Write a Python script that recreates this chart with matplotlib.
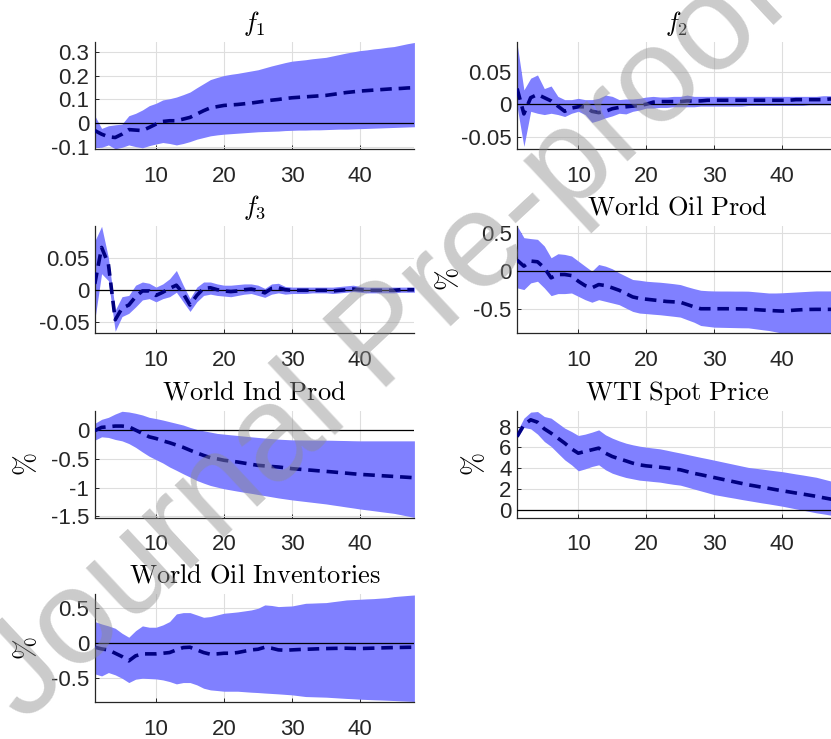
import matplotlib
matplotlib.use('Agg')
import matplotlib.pyplot as plt
from matplotlib.ticker import FuncFormatter
import numpy as np

plt.rcParams['mathtext.fontset'] = 'cm'
plt.rcParams['axes.unicode_minus'] = False
plt.rcParams['font.family'] = ['Liberation Sans', 'DejaVu Sans']

horizon = np.arange(1, 49)

# f1
f1_med = [-0.030, -0.045, -0.056, -0.059, -0.045, -0.026, -0.028, -0.030, -0.017, -0.003,
          0.008, 0.011, 0.011, 0.018, 0.025, 0.039, 0.053, 0.065, 0.070, 0.075,
          0.077, 0.079, 0.082, 0.085, 0.089, 0.093, 0.097, 0.100, 0.104, 0.107,
          0.109, 0.111, 0.113, 0.115, 0.117, 0.121, 0.125, 0.129, 0.132, 0.135,
          0.137, 0.139, 0.141, 0.143, 0.145, 0.146, 0.148, 0.149]
f1_hi = [0.032, -0.021, -0.010, -0.006, -0.003, 0.032, 0.042, 0.056, 0.074, 0.084,
         0.098, 0.103, 0.110, 0.120, 0.131, 0.149, 0.166, 0.183, 0.192, 0.200,
         0.205, 0.209, 0.214, 0.219, 0.224, 0.232, 0.240, 0.247, 0.254, 0.260,
         0.263, 0.266, 0.270, 0.273, 0.276, 0.282, 0.288, 0.294, 0.299, 0.304,
         0.307, 0.311, 0.314, 0.318, 0.321, 0.327, 0.333, 0.338]
f1_lo = [-0.101, -0.100, -0.090, -0.106, -0.100, -0.090, -0.097, -0.102, -0.093, -0.086,
         -0.080, -0.084, -0.090, -0.084, -0.076, -0.066, -0.059, -0.052, -0.048, -0.045,
         -0.043, -0.041, -0.039, -0.037, -0.035, -0.034, -0.033, -0.032, -0.030, -0.029,
         -0.028, -0.028, -0.027, -0.027, -0.026, -0.025, -0.024, -0.024, -0.023, -0.022,
         -0.021, -0.020, -0.019, -0.018, -0.017, -0.016, -0.015, -0.014]

# f2
f2_med = [0.024, -0.015, 0.010, 0.015, 0.010, 0.005, -0.003, -0.011, -0.006, -0.004,
          -0.004, -0.011, -0.013, -0.011, -0.007, -0.005, -0.004, -0.003, -0.002, 0.000,
          0.003, 0.004, 0.004, 0.004, 0.004, 0.005, 0.005, 0.005, 0.006, 0.006,
          0.006, 0.006, 0.006, 0.006, 0.006, 0.006, 0.006, 0.006, 0.006, 0.006,
          0.006, 0.007, 0.007, 0.007, 0.007, 0.007, 0.008, 0.008]
f2_hi = [0.093, 0.022, 0.040, 0.045, 0.024, 0.028, 0.012, 0.007, 0.007, 0.009,
         0.007, 0.007, 0.009, 0.014, 0.012, 0.007, 0.008, 0.008, 0.009, 0.011,
         0.012, 0.011, 0.011, 0.012, 0.012, 0.014, 0.012, 0.012, 0.012, 0.012,
         0.012, 0.012, 0.012, 0.012, 0.012, 0.012, 0.012, 0.012, 0.012, 0.012,
         0.012, 0.012, 0.012, 0.012, 0.012, 0.013, 0.013, 0.013]
f2_lo = [-0.004, -0.065, -0.011, -0.014, -0.016, -0.014, -0.016, -0.019, -0.014, -0.011,
         -0.016, -0.028, -0.025, -0.021, -0.018, -0.014, -0.015, -0.011, -0.009, -0.006,
         -0.006, -0.005, -0.005, -0.004, -0.004, -0.004, -0.004, -0.003, -0.003, -0.003,
         -0.003, -0.003, -0.003, -0.003, -0.002, -0.002, -0.002, -0.002, -0.002, -0.002,
         -0.002, -0.002, -0.002, -0.001, -0.001, -0.001, -0.001, -0.001]

# f3
f3_med = [0.010, 0.067, 0.041, -0.046, -0.028, -0.023, -0.010, -0.001, -0.001, -0.008,
          -0.003, 0.003, 0.008, -0.005, -0.023, -0.008, 0.003, 0.004, 0.001, -0.001,
          -0.002, -0.001, 0.001, 0.002, 0.000, -0.004, 0.003, 0.004, 0.001, 0.000,
          0.000, 0.000, 0.000, 0.000, 0.000, -0.001, 0.000, 0.001, 0.002, 0.001,
          0.000, 0.000, 0.000, 0.000, 0.000, 0.001, 0.001, 0.001]
f3_hi = [0.077, 0.100, 0.051, -0.031, -0.010, -0.008, 0.008, 0.013, 0.011, 0.005,
         0.010, 0.018, 0.031, 0.008, -0.013, 0.005, 0.013, 0.013, 0.010, 0.008,
         0.008, 0.009, 0.010, 0.010, 0.008, 0.003, 0.010, 0.011, 0.006, 0.005,
         0.005, 0.005, 0.005, 0.005, 0.005, 0.005, 0.006, 0.007, 0.008, 0.006,
         0.005, 0.005, 0.005, 0.005, 0.005, 0.005, 0.005, 0.005]
f3_lo = [-0.046, 0.026, 0.015, -0.064, -0.041, -0.036, -0.026, -0.015, -0.013, -0.018,
         -0.013, -0.010, -0.003, -0.018, -0.033, -0.018, -0.008, -0.006, -0.008, -0.009,
         -0.010, -0.008, -0.006, -0.005, -0.008, -0.011, -0.006, -0.004, -0.006, -0.005,
         -0.005, -0.005, -0.004, -0.004, -0.004, -0.005, -0.004, -0.003, -0.002, -0.003,
         -0.004, -0.004, -0.004, -0.004, -0.004, -0.003, -0.003, -0.003]

# World Oil Prod
wop_med = [0.146, 0.066, 0.133, 0.124, 0.044, -0.088, -0.044, -0.044, -0.058, -0.133,
           -0.190, -0.220, -0.177, -0.190, -0.220, -0.252, -0.296, -0.340, -0.360, -0.370,
           -0.380, -0.390, -0.400, -0.405, -0.410, -0.440, -0.470, -0.496, -0.496, -0.496,
           -0.496, -0.496, -0.497, -0.498, -0.500, -0.507, -0.513, -0.518, -0.523, -0.527,
           -0.520, -0.513, -0.508, -0.505, -0.504, -0.504, -0.504, -0.504]
wop_hi = [0.597, 0.442, 0.430, 0.420, 0.332, 0.177, 0.230, 0.221, 0.200, 0.133,
          0.066, 0.000, 0.088, 0.066, 0.031, -0.022, -0.066, -0.110, -0.120, -0.133,
          -0.140, -0.146, -0.155, -0.165, -0.177, -0.205, -0.230, -0.252, -0.258, -0.261,
          -0.262, -0.262, -0.263, -0.263, -0.264, -0.272, -0.280, -0.288, -0.288, -0.285,
          -0.280, -0.275, -0.270, -0.265, -0.261, -0.261, -0.261, -0.261]
wop_lo = [-0.220, -0.243, -0.155, -0.133, -0.221, -0.323, -0.296, -0.296, -0.288, -0.332,
          -0.376, -0.410, -0.376, -0.398, -0.420, -0.442, -0.487, -0.531, -0.553, -0.560,
          -0.568, -0.575, -0.585, -0.595, -0.606, -0.640, -0.673, -0.717, -0.728, -0.739,
          -0.741, -0.743, -0.745, -0.747, -0.748, -0.760, -0.772, -0.783, -0.800, -0.819,
          -0.819, -0.819, -0.819, -0.819, -0.819, -0.819, -0.819, -0.819]

# World Ind Prod
wip_med = [-0.010, 0.047, 0.058, 0.070, 0.070, 0.058, 0.000, -0.058, -0.117, -0.146,
           -0.187, -0.220, -0.260, -0.300, -0.350, -0.397, -0.440, -0.480, -0.500, -0.525,
           -0.540, -0.555, -0.575, -0.595, -0.613, -0.623, -0.633, -0.642, -0.656, -0.671,
           -0.680, -0.690, -0.699, -0.709, -0.718, -0.728, -0.739, -0.749, -0.760, -0.770,
           -0.777, -0.784, -0.792, -0.799, -0.806, -0.814, -0.821, -0.829]
wip_hi = [0.117, 0.187, 0.222, 0.280, 0.327, 0.315, 0.292, 0.263, 0.222, 0.200,
          0.175, 0.146, 0.117, 0.088, 0.047, 0.012, -0.012, -0.035, -0.058, -0.070,
          -0.082, -0.093, -0.105, -0.117, -0.128, -0.138, -0.148, -0.158, -0.164, -0.170,
          -0.171, -0.172, -0.173, -0.174, -0.175, -0.177, -0.180, -0.182, -0.185, -0.187,
          -0.187, -0.187, -0.187, -0.187, -0.187, -0.187, -0.187, -0.187]
wip_lo = [-0.175, -0.117, -0.128, -0.163, -0.187, -0.234, -0.300, -0.380, -0.455, -0.514,
          -0.572, -0.642, -0.700, -0.760, -0.817, -0.876, -0.922, -0.963, -0.992, -1.020,
          -1.041, -1.062, -1.081, -1.100, -1.120, -1.140, -1.160, -1.180, -1.197, -1.214,
          -1.228, -1.242, -1.256, -1.270, -1.284, -1.302, -1.319, -1.337, -1.354, -1.372,
          -1.387, -1.402, -1.418, -1.433, -1.448, -1.471, -1.495, -1.518]

# WTI Spot Price
wti_med = [7.04, 8.17, 8.65, 8.42, 7.78, 7.36, 6.88, 6.40, 5.85, 5.43,
           5.60, 5.76, 5.92, 5.43, 5.11, 4.89, 4.69, 4.47, 4.31, 4.21,
           4.15, 4.08, 4.00, 3.91, 3.83, 3.66, 3.49, 3.36, 3.22, 3.08,
           2.94, 2.80, 2.66, 2.52, 2.38, 2.27, 2.15, 2.04, 1.92, 1.81,
           1.70, 1.59, 1.49, 1.38, 1.27, 1.14, 1.02, 0.89]
wti_hi = [7.52, 8.81, 9.39, 9.45, 8.97, 8.81, 8.33, 7.85, 7.52, 7.14,
          7.27, 7.46, 7.68, 7.20, 6.88, 6.62, 6.40, 6.24, 6.11, 6.01,
          5.93, 5.85, 5.72, 5.58, 5.45, 5.31, 5.17, 5.03, 4.90, 4.76,
          4.62, 4.48, 4.34, 4.20, 4.06, 3.98, 3.90, 3.81, 3.73, 3.65,
          3.54, 3.43, 3.33, 3.22, 3.11, 2.94, 2.77, 2.60]
wti_lo = [6.88, 7.91, 7.78, 7.27, 6.56, 6.08, 5.43, 4.79, 4.31, 3.73,
          3.92, 4.15, 4.31, 3.83, 3.50, 3.28, 3.09, 2.96, 2.83, 2.77,
          2.70, 2.64, 2.53, 2.43, 2.35, 2.17, 1.98, 1.80, 1.62, 1.43,
          1.32, 1.20, 1.09, 0.97, 0.86, 0.75, 0.64, 0.54, 0.43, 0.32,
          0.19, 0.06, -0.06, -0.19, -0.32, -0.42, -0.53, -0.63]

# World Oil Inventories
inv_med = [-0.057, -0.081, -0.095, -0.143, -0.190, -0.252, -0.180, -0.152, -0.152, -0.152,
           -0.143, -0.133, -0.095, -0.062, -0.057, -0.095, -0.133, -0.157, -0.152, -0.143,
           -0.143, -0.133, -0.114, -0.095, -0.086, -0.057, -0.071, -0.095, -0.100, -0.095,
           -0.090, -0.086, -0.083, -0.079, -0.076, -0.074, -0.072, -0.071, -0.074, -0.076,
           -0.073, -0.070, -0.067, -0.064, -0.062, -0.060, -0.058, -0.057]
inv_hi = [0.310, 0.276, 0.248, 0.214, 0.143, 0.086, 0.180, 0.248, 0.229, 0.229,
          0.262, 0.310, 0.419, 0.438, 0.438, 0.405, 0.371, 0.381, 0.405, 0.429,
          0.438, 0.448, 0.462, 0.476, 0.500, 0.548, 0.540, 0.524, 0.529, 0.533,
          0.552, 0.571, 0.574, 0.578, 0.581, 0.594, 0.606, 0.619, 0.624, 0.629,
          0.634, 0.638, 0.645, 0.652, 0.667, 0.675, 0.683, 0.690]
inv_lo = [-0.438, -0.467, -0.419, -0.452, -0.500, -0.562, -0.514, -0.500, -0.505, -0.510,
          -0.524, -0.548, -0.581, -0.562, -0.562, -0.595, -0.643, -0.667, -0.676, -0.686,
          -0.686, -0.686, -0.693, -0.700, -0.705, -0.712, -0.718, -0.724, -0.731, -0.738,
          -0.750, -0.762, -0.765, -0.768, -0.771, -0.777, -0.783, -0.789, -0.794, -0.800,
          -0.804, -0.808, -0.811, -0.815, -0.819, -0.824, -0.828, -0.833]

titles = [r'$f_1$', r'$f_2$', r'$f_3$', r'$\mathrm{World\ Oil\ Prod}$',
          r'$\mathrm{World\ Ind\ Prod}$', r'$\mathrm{WTI\ Spot\ Price}$',
          r'$\mathrm{World\ Oil\ Inventories}$']
medians = [f1_med, f2_med, f3_med, wop_med, wip_med, wti_med, inv_med]
uppers = [f1_hi, f2_hi, f3_hi, wop_hi, wip_hi, wti_hi, inv_hi]
lowers = [f1_lo, f2_lo, f3_lo, wop_lo, wip_lo, wti_lo, inv_lo]
yticks = [[-0.1, 0, 0.1, 0.2, 0.3], [-0.05, 0, 0.05], [-0.05, 0, 0.05], [-0.5, 0, 0.5],
          [-1.5, -1, -0.5, 0], [0, 2, 4, 6, 8], [-0.5, 0, 0.5]]
ylims = [(-0.107, 0.34), (-0.069, 0.0957), (-0.0667, 0.1005), (-0.816, 0.596),
         (-1.52, 0.332), (-0.77, 9.5), (-0.84, 0.704)]
show_pct = [False, False, False, True, True, True, True]
xticks = [10, 20, 30, 40]

W, H = 831, 739
fig = plt.figure(figsize=(W / 100, H / 100), dpi=100)

# axes boxes in pixels: left, top, bottom
lefts = [94.8, 517.1]
rows = [(42, 149), (226, 333), (411, 517.5), (594, 702)]
ax_w = 319.6

grey = (0.15, 0.15, 0.15)
fmt = FuncFormatter(lambda v, p: '%g' % v)

for i in range(7):
    r, c = divmod(i, 2)
    top, bot = rows[r]
    ax = fig.add_axes([lefts[c] / W, 1 - bot / H, ax_w / W, (bot - top) / H])
    ax.fill_between(horizon, lowers[i], uppers[i], color='#8080ff', linewidth=0, zorder=2)
    ax.axhline(0, color='black', linewidth=0.9, zorder=3)
    ax.plot(horizon, medians[i], color='#000080', linewidth=2.6, dashes=(3.2, 1.9), zorder=4)
    ax.set_xlim(1, 48)
    ax.set_ylim(*ylims[i])
    ax.set_xticks(xticks)
    ax.set_yticks(yticks[i])
    ax.yaxis.set_major_formatter(fmt)
    ax.grid(True, color=(0.87, 0.87, 0.87), linewidth=0.8, zorder=0)
    ax.set_axisbelow(True)
    for s in ['top', 'right']:
        ax.spines[s].set_visible(False)
    for s in ['left', 'bottom']:
        ax.spines[s].set_color(grey)
        ax.spines[s].set_linewidth(0.9)
    ax.tick_params(axis='both', direction='in', length=3, width=0.7, color=grey,
                   labelcolor=grey, labelsize=16)
    ax.tick_params(axis='x', pad=12)
    ax.tick_params(axis='y', pad=4)
    ax.set_title(titles[i], fontsize=19, pad=8)
    if show_pct[i]:
        ax.set_ylabel(r'$\%$', fontsize=20, labelpad=7)

# watermark
fig.text(385 / W, 1 - 340 / H, 'Journal Pre-proof', rotation=43, fontsize=98,
         color=(0.55, 0.55, 0.55), alpha=0.45, ha='center', va='center',
         family='Liberation Sans', rotation_mode='anchor', zorder=10)

fig.savefig('out.png', dpi=100)
